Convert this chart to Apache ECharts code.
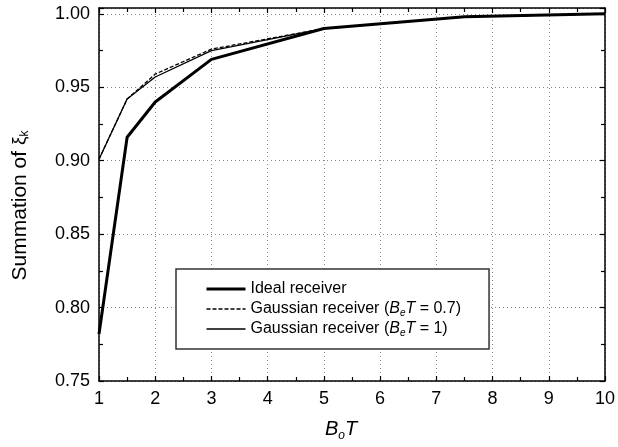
<!DOCTYPE html>
<html>
<head>
<meta charset="utf-8">
<script src="https://cdn.jsdelivr.net/npm/echarts@6/dist/echarts.min.js"></script>
<style>
  html, body { margin: 0; padding: 0; background: #fff; }
</style>
</head>
<body>
<div id="main" style="width:618px;height:447px"></div>
<script>
// B_o T values
var bot = [1, 1.5, 2, 3, 5, 7.5, 10]
// summation of xi_k
var idealRx = [0.782, 0.916, 0.940, 0.969, 0.990, 0.998, 1.000]
var gauss07 = [0.901, 0.942, 0.959, 0.976, 0.990, 0.998, 1.000]
var gauss1 = [0.901, 0.942, 0.957, 0.975, 0.990, 0.998, 1.000]
var seriesNames = ['Ideal receiver', 'Gaussian receiver (BeT = 0.7)', 'Gaussian receiver (BeT = 1)']

var font = 'Liberation Sans, Arial, sans-serif'

function pairs (ys) {
  return bot.map(function (x, i) { return [x, ys[i]] })
}

var myChart = echarts.init(document.getElementById('main'))

var frameAxis = {
  axisLine: { lineStyle: { color: '#000', width: 1.5 } },
  axisTick: { inside: true, length: 5, lineStyle: { color: '#000', width: 1.2 } },
  minorTick: { show: true, splitNumber: 2, length: 4, lineStyle: { color: '#000', width: 1.2 } }
}

// line looks for each series (used for series and legend)
var styles = [
  { color: '#000', width: 3, type: 'solid' },
  { color: '#000', width: 1.3, type: [4, 2] },
  { color: '#000', width: 1.3, type: 'solid' }
]

var option = {
  backgroundColor: '#fff',
  animation: false,
  grid: { left: 97, right: 11, top: 8, bottom: 64.5 },
  legend: {
    left: 176,
    top: 269,
    orient: 'vertical',
    backgroundColor: '#fff',
    borderColor: '#333',
    borderWidth: 1.5,
    borderRadius: 0,
    padding: [11, 28, 11, 29],
    itemWidth: 39,
    itemHeight: 14,
    itemGap: 2,
    itemStyle: { opacity: 0 },
    data: seriesNames.map(function (n, i) {
      return { name: n, lineStyle: styles[i] }
    }),
    formatter: function (name) {
      if (name === seriesNames[1]) return 'Gaussian receiver ({i|B}{s|e}{i|T} = 0.7)'
      if (name === seriesNames[2]) return 'Gaussian receiver ({i|B}{s|e}{i|T} = 1)'
      return name
    },
    textStyle: {
      color: '#000',
      fontFamily: font,
      fontSize: 16,
      lineHeight: 18,
      rich: {
        i: { fontStyle: 'italic', fontFamily: font, fontSize: 16, lineHeight: 18, color: '#000' },
        s: { fontStyle: 'italic', fontFamily: font, fontSize: 10, lineHeight: 10, padding: [8, 0, 0, 0], color: '#000' }
      }
    }
  },
  xAxis: [
    Object.assign({
      type: 'value',
      min: 1,
      max: 10,
      interval: 1,
      name: '{i|B}{s|o}{i|T}',
      nameLocation: 'middle',
      nameGap: 37,
      nameTextStyle: {
        padding: [0, 22, 0, 0],
        rich: {
          i: { fontStyle: 'italic', fontFamily: font, fontSize: 20, lineHeight: 22, color: '#000' },
          s: { fontStyle: 'italic', fontFamily: font, fontSize: 12, lineHeight: 10, padding: [14, 0, 0, 0], color: '#000' }
        }
      },
      axisLabel: { color: '#000', fontFamily: font, fontSize: 18, margin: 9 },
      splitLine: { show: true, lineStyle: { color: '#888', type: [1, 3], width: 1 } }
    }, frameAxis),
    Object.assign({
      type: 'value',
      position: 'top',
      min: 1,
      max: 10,
      interval: 1,
      axisLabel: { show: false },
      splitLine: { show: false }
    }, frameAxis)
  ],
  yAxis: [
    Object.assign({
      type: 'value',
      min: 0.75,
      max: 1.004,
      interval: 0.05,
      name: 'Summation of {x|ξ}{s|k}',
      nameLocation: 'middle',
      nameGap: 67,
      nameTextStyle: {
        color: '#000',
        fontFamily: font,
        fontSize: 21,
        lineHeight: 24,
        padding: [0, 22, 0, 0],
        rich: {
          x: { fontFamily: font, fontSize: 19, lineHeight: 24, color: '#000' },
          s: { fontFamily: font, fontSize: 12, lineHeight: 12, padding: [10, 0, 0, 0], color: '#000' }
        }
      },
      axisLabel: {
        color: '#000',
        fontFamily: font,
        fontSize: 18,
        margin: 9,
        formatter: function (v) {
          var k = Math.round(v / 0.05)
          return Math.abs(v - k * 0.05) < 1e-6 ? v.toFixed(2) : ''
        }
      },
      splitLine: { show: true, lineStyle: { color: '#888', type: [1, 3], width: 1 } }
    }, frameAxis),
    Object.assign({
      type: 'value',
      position: 'right',
      min: 0.75,
      max: 1.004,
      interval: 0.05,
      axisLabel: { show: false },
      splitLine: { show: false }
    }, frameAxis)
  ],
  series: [
    {
      name: seriesNames[0],
      type: 'line',
      data: pairs(idealRx),
      symbol: 'none',
      z: 4,
      itemStyle: { color: '#000' },
      lineStyle: styles[0]
    },
    {
      name: seriesNames[1],
      type: 'line',
      data: pairs(gauss07),
      symbol: 'none',
      z: 3,
      itemStyle: { color: '#000' },
      lineStyle: styles[1]
    },
    {
      name: seriesNames[2],
      type: 'line',
      data: pairs(gauss1),
      symbol: 'none',
      z: 3,
      itemStyle: { color: '#000' },
      lineStyle: styles[2]
    }
  ]
}
myChart.setOption(option)
</script>
</body>
</html>
